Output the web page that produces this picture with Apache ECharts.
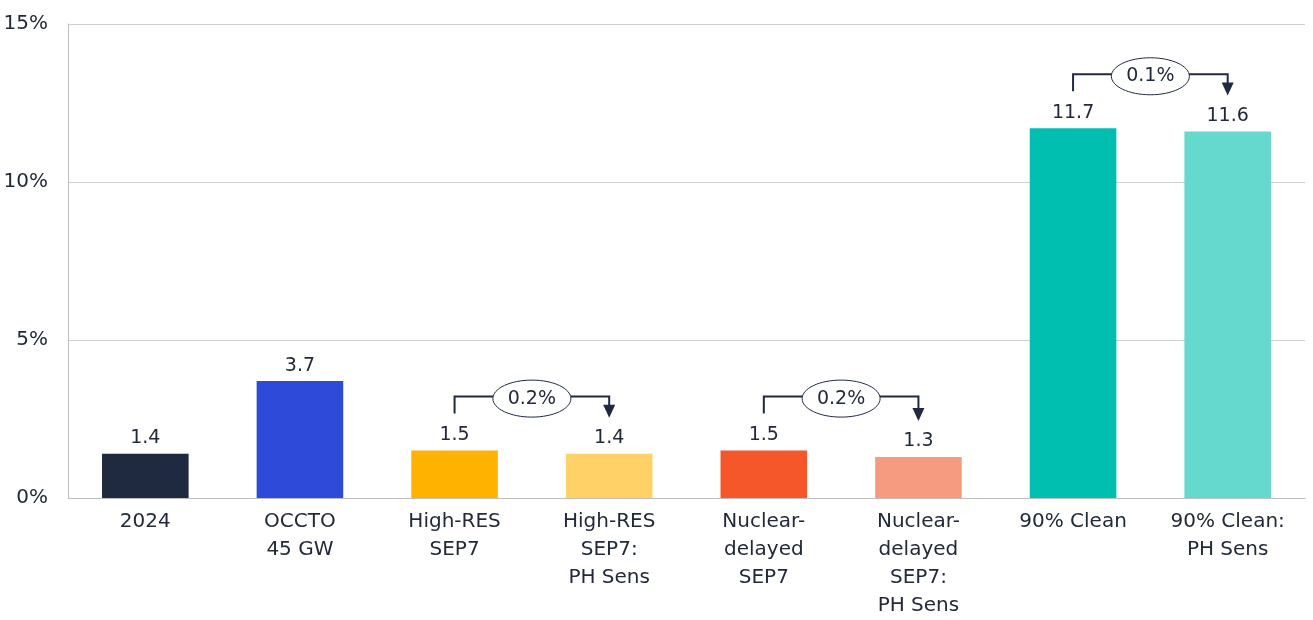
<!DOCTYPE html>
<html>
<head>
<meta charset="utf-8">
<script src="https://cdn.jsdelivr.net/npm/echarts@6/dist/echarts.min.js"></script>
<style>
  html,body{margin:0;padding:0;background:#fff;}
  #main{width:1313px;height:620px;}
</style>
</head>
<body>
<div id="main"></div>
<script>
// categories and values
var categories = ['2024', 'OCCTO\n45 GW', 'High-RES\nSEP7', 'High-RES\nSEP7:\nPH Sens',
  'Nuclear-\ndelayed\nSEP7', 'Nuclear-\ndelayed\nSEP7:\nPH Sens', '90% Clean', '90% Clean:\nPH Sens'];
var values = [1.4, 3.7, 1.5, 1.4, 1.5, 1.3, 11.7, 11.6];
var barColors = ['#1f2940', '#2d4bd8', '#ffb300', '#ffd166', '#f5572a', '#f79b80', '#00bfb0', '#66d9cf'];
var yTicks = [0, 5, 10, 15];
// change annotations: [from index, to index, label]
var diffPairs = [[2, 3, '0.2%'], [4, 5, '0.2%'], [6, 7, '0.1%']];

var textColor = '#222a3a';
var font = 'DejaVu Sans';

var chart = echarts.init(document.getElementById('main'));

var option = {
  animation: false,
  grid: {left: 68, right: 8, top: 24, bottom: 121, containLabel: false},
  xAxis: {
    type: 'category',
    data: categories,
    axisLine: {lineStyle: {color: '#bdbdbd'}},
    axisTick: {show: false},
    axisLabel: {
      color: textColor, fontFamily: font, fontSize: 20, lineHeight: 28,
      margin: 10, interval: 0
    }
  },
  yAxis: {
    type: 'value',
    min: 0, max: 15, interval: 5,
    axisLine: {show: true, lineStyle: {color: '#bdbdbd'}},
    axisTick: {show: false},
    splitLine: {lineStyle: {color: '#cfcfcf'}},
    axisLabel: {
      color: textColor, fontFamily: font, fontSize: 20, margin: 20,
      formatter: function (v) { return yTicks.indexOf(v) >= 0 ? v + '%' : ''; }
    }
  },
  series: [{
    type: 'bar',
    barWidth: '56%',
    data: values.map(function (v, i) {
      return {value: v, itemStyle: {color: barColors[i]}};
    }),
    label: {
      show: true, position: 'top', distance: 6,
      color: textColor, fontFamily: font, fontSize: 19,
      formatter: function (p) { return p.value.toFixed(1); }
    }
  }]
};
chart.setOption(option);

// brackets with ellipse labels, placed from the chart's own scales
function px(i, v) { return chart.convertToPixel({xAxisIndex: 0, yAxisIndex: 0}, [i, v]); }
var graphics = [];
diffPairs.forEach(function (d) {
  var a = px(d[0], values[d[0]]);
  var b = px(d[1], values[d[1]]);
  var topY = Math.min(a[1], b[1]) - 54;
  var leftEnd = a[1] - 37;
  var tipY = b[1] - 36;
  var midX = (a[0] + b[0]) / 2;
  graphics.push({
    type: 'polyline', z: 10,
    shape: {points: [[a[0], leftEnd], [a[0], topY], [b[0], topY], [b[0], tipY - 12]]},
    style: {stroke: '#1f2940', lineWidth: 2, fill: null}
  });
  graphics.push({
    type: 'polygon', z: 10,
    shape: {points: [[b[0] - 6, tipY - 13], [b[0] + 6, tipY - 13], [b[0], tipY]]},
    style: {fill: '#1f2940'}
  });
  graphics.push({
    type: 'ellipse', z: 11,
    shape: {cx: midX, cy: topY + 2, rx: 39, ry: 18.5},
    style: {fill: '#fff', stroke: '#1f2940', lineWidth: 1}
  });
  graphics.push({
    type: 'text', z: 12, x: midX, y: topY + 2,
    style: {text: d[2], fill: textColor, font: '19px "DejaVu Sans"', align: 'center', verticalAlign: 'middle'}
  });
});
chart.setOption({graphic: graphics});
</script>
</body>
</html>
